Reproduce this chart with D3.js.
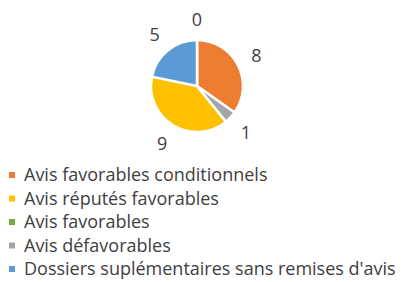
<!DOCTYPE html>
<html>
<head>
<meta charset="utf-8">
<script src="https://cdn.jsdelivr.net/npm/d3@7"></script>
<style>
  body { margin: 0; background: #fff; }
  svg { display: block; }
</style>
</head>
<body>
<div id="chart"></div>
<script>
// legend order
const categories = [
  "Avis favorables conditionnels",
  "Avis réputés favorables",
  "Avis favorables",
  "Avis défavorables",
  "Dossiers suplémentaires sans remises d'avis"
];
const values = [8, 9, 0, 1, 5];
const colors = ["#ED7D31", "#FFC000", "#70AD47", "#A5A5A5", "#5B9BD5"];
// order of the slices clockwise from the top
const pieOrder = [0, 3, 1, 4, 2];

const width = 407, height = 282;
const cx = 197, cy = 86, radius = 46;

const data = categories.map((c, i) => ({ name: c, value: values[i], color: colors[i], idx: i }));

const svg = d3.select('#chart')
  .append('svg')
  .attr('width', width)
  .attr('height', height)
  .style('font-family', '"Open Sans", sans-serif');

const pie = d3.pie()
  .value(d => d.value)
  .sort((a, b) => pieOrder.indexOf(a.idx) - pieOrder.indexOf(b.idx));

const arc = d3.arc().innerRadius(0).outerRadius(radius);
const labelArc = d3.arc().innerRadius(67).outerRadius(67);

const g = svg.append('g')
  .attr('transform', `translate(${cx}, ${cy})`);

const arcs = pie(data);

g.selectAll('path')
  .data(arcs)
  .enter()
  .append('path')
  .attr('d', arc)
  .attr('fill', d => d.data.color)
  .attr('stroke', '#fff')
  .attr('stroke-width', 2.5)
  .attr('stroke-linejoin', 'round');

// data labels
g.selectAll('.lbl')
  .data(arcs)
  .enter()
  .append('text')
  .attr('class', 'lbl')
  .attr('x', d => labelArc.centroid(d)[0])
  .attr('y', d => labelArc.centroid(d)[1])
  .attr('text-anchor', 'middle')
  .attr('dominant-baseline', 'central')
  .attr('fill', '#404040')
  .attr('font-size', '18px')
  .text(d => d.data.value);

// legend
const yLegend = d3.scalePoint()
  .domain(categories)
  .range([181, 275]);

const legend = svg.selectAll('.legend')
  .data(data)
  .enter()
  .append('g')
  .attr('class', 'legend')
  .attr('transform', d => `translate(0, ${yLegend(d.name)})`);

legend.append('rect')
  .attr('x', 9)
  .attr('y', -9)
  .attr('width', 6)
  .attr('height', 6)
  .attr('fill', d => d.color);

legend.append('text')
  .attr('x', 24)
  .attr('y', 0)
  .attr('fill', '#404040')
  .attr('font-size', '18px')
  .text(d => d.name);
</script>
</body>
</html>
